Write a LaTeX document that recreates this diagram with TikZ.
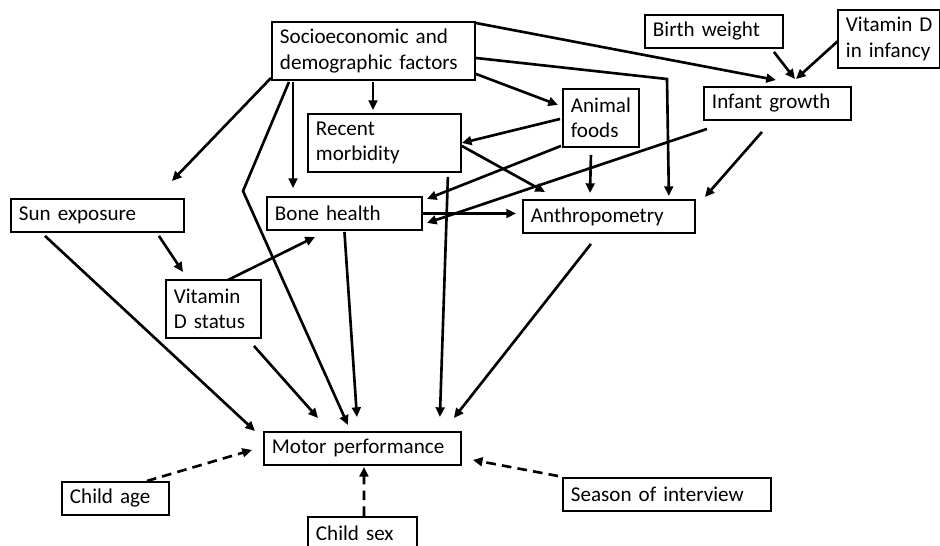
\documentclass[tikz,border=0pt]{standalone}
\usepackage{fontspec}
\setmainfont{Carlito}[WordSpace=0.6]
\usetikzlibrary{arrows.meta,calc}

\tikzset{
  factor/.style={draw, line width=1.1pt, rectangle, anchor=north west, align=left,
    inner xsep=0.16cm, inner ysep=1pt, minimum height=0.66cm,
    font=\fontsize{12}{14.3}\selectfont},
  twoline/.style={minimum height=1.16cm},
  cause/.style={line width=1.5pt, -{Triangle[length=5.5pt,width=5pt]}},
  confounder/.style={cause, dash pattern=on 5.5pt off 3.5pt},
}

\begin{document}
\begin{tikzpicture}[x=0.02cm, y=-0.02cm]
    \clip (0,0) rectangle (940,545);

    \node[factor, twoline, text width=3.74cm] (socio) at (271,21) {Socioeconomic and\\demographic factors};
    \node[factor, twoline, text width=2.74cm] (morbidity) at (307,113) {Recent\\morbidity};
    \node[factor, text width=3.14cm] (sun) at (10,198) {Sun exposure};
    \node[factor, text width=2.78cm] (bone) at (266,196) {Bone health};
    \node[factor, twoline, text width=1.20cm] (animal) at (562,88) {Animal\\foods};
    \node[factor, text width=2.62cm] (growth) at (703,86) {Infant growth};
    \node[factor, text width=2.44cm] (birthwt) at (644,14) {Birth weight};
    \node[factor, twoline, text width=1.72cm] (vitdinf) at (837,9) {Vitamin~D\\in infancy};
    \node[factor, text width=3.12cm] (anthro) at (522,199) {Anthropometry};
    \node[factor, twoline, text width=1.58cm] (vitdstat) at (165,279) {Vitamin\\D status};
    \node[factor, text width=3.62cm] (motor) at (263,431) {Motor performance};
    \node[factor, text width=1.82cm] (age) at (61,481) {Child age};
    \node[factor, text width=1.86cm] (sex) at (307,516) {Child sex};
    \node[factor, text width=3.84cm] (season) at (562,477) {Season of interview};

    \coordinate (sebend) at (243,191);
    \coordinate (anthrocorner) at (667,79);

    % socioeconomic factors
    \path[cause]
        ($(socio.south west)+(0,-3)$) edge ($(sun.north east)+(-13,-17)$)
        ($(socio.south west)+(22,1)$) edge ($(bone.north west)+(27,-8)$)
        ($(socio.south west)+(102,1)$) edge ($(morbidity.north west)+(66,-3)$)
        ($(socio.south east)+(0,-7)$) edge ($(animal.west)+(-4,-13)$)
        ($(socio.north east)+(0,2)$) edge ($(growth.north)+(-1.5,-6)$)
    ;
    \draw[cause] ($(socio.south west)+(18,1)$) -- (sebend) -- ($(motor.north)+(-14.5,-6)$);
    \draw[cause] ($(socio.east)+(0,7)$) -- (anthrocorner) -- ($(anthro.north east)+(-27,-3)$);

    % infant growth
    \path[cause]
        ($(birthwt.south east)+(-10,3)$) edge ($(growth.north)+(17.5,-7)$)
        ($(vitdinf.west)+(1,2)$) edge ($(growth.north)+(18.5,-7)$)
        ($(growth.south)+(-15.5,11)$) edge ($(anthro.north east)+(9,-2)$)
        ($(growth.south west)+(4,8)$) edge ($(bone.east)+(4,9.5)$)
    ;

    % animal foods and morbidity
    \path[cause]
        ($(animal.west)+(-2,1)$) edge (morbidity.east)
        ($(animal.south west)+(-1,-2)$) edge ($(bone.north east)+(4,3)$)
        ($(animal.south)+(-10,7)$) edge ($(anthro.north west)+(68,-6)$)
        ($(morbidity.east)+(0,3)$) edge ($(anthro.north west)+(23,-7)$)
        ($(morbidity.south east)+(-14,4)$) edge ($(motor.north east)+(-22,-14)$)
        (bone.east) edge ($(anthro.west)+(-6,-3)$)
    ;

    % vitamin D and motor performance
    \path[cause]
        ($(sun.south east)+(-26,3)$) edge ($(vitdstat.north west)+(18,-7)$)
        ($(sun.south west)+(35,3)$) edge ($(motor.north west)+(-8,0)$)
        ($(vitdstat.north)+(14.5,1)$) edge ($(bone.south west)+(49,6)$)
        ($(vitdstat.south east)+(-8,7)$) edge ($(motor.north west)+(55,-13)$)
        ($(bone.south)+(0,1)$) edge ($(motor.north)+(-5.5,-14)$)
        ($(anthro.south)+(-18,10)$) edge ($(motor.north east)+(-8,-13)$)
    ;

    \path[confounder]
        ($(age.north east)+(-23,0)$) edge ($(motor.west)+(-11,1.5)$)
        ($(sex.north)+(1.5,0)$) edge ($(motor.south)+(1.5,1)$)
        ($(season.north west)+(-4,-1)$) edge ($(motor.east)+(11,11.5)$)
    ;
\end{tikzpicture}
\end{document}
